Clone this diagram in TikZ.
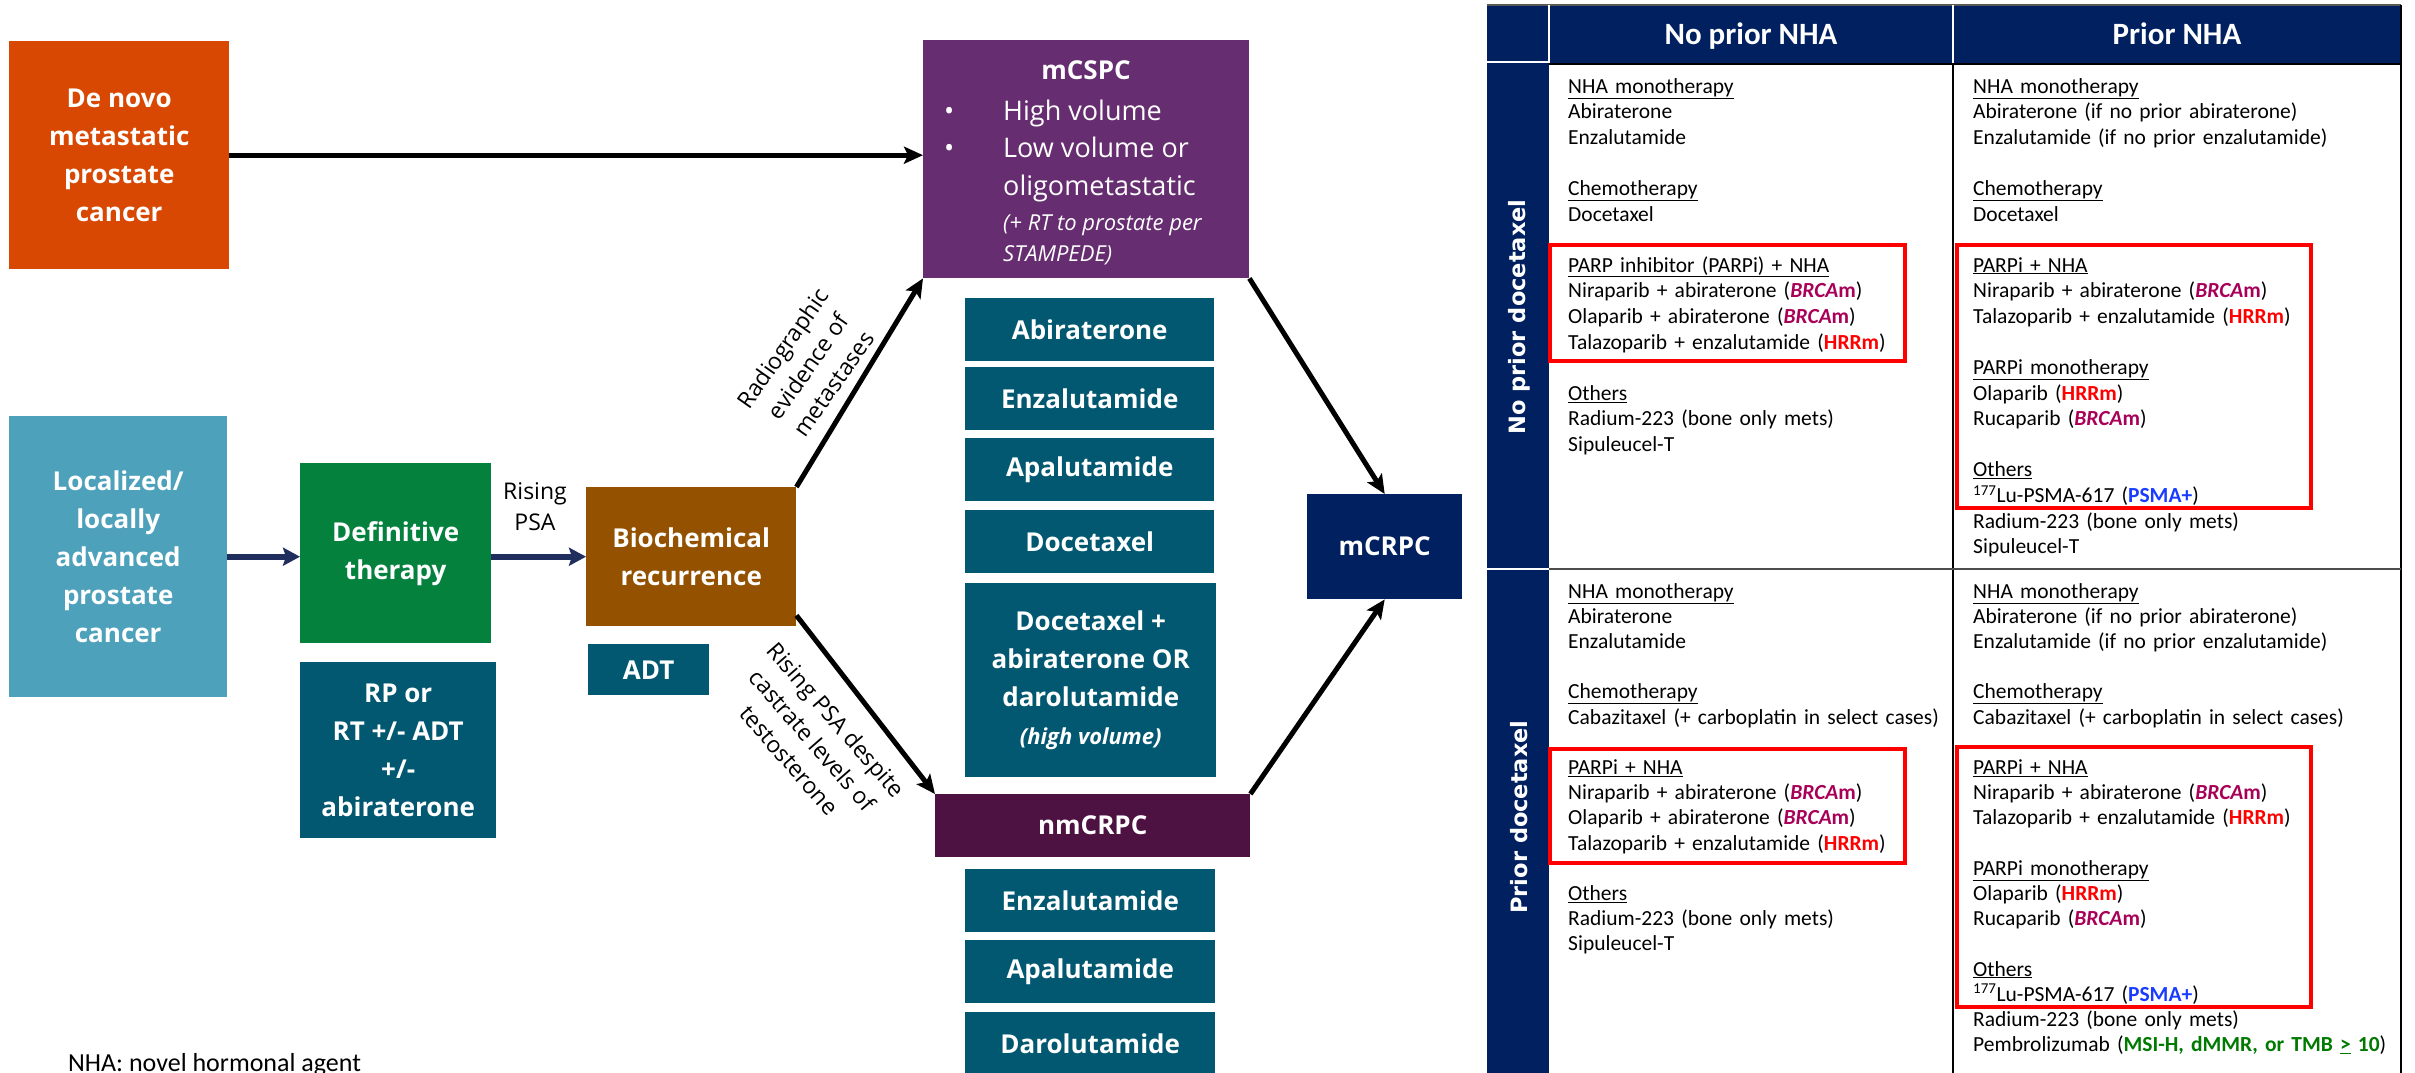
\documentclass[tikz,border=0pt]{standalone}
\usepackage{fontspec}
\setmainfont{Carlito}
\newfontfamily\osans{Open Sans}
\newfontfamily\dvsans{DejaVu Sans}
\usetikzlibrary{arrows.meta}
\definecolor{cOrange}{RGB}{216,72,2}
\definecolor{cPurple}{RGB}{102,45,112}
\definecolor{cTeal}{RGB}{2,88,112}
\definecolor{cLight}{RGB}{77,161,187}
\definecolor{cGreen}{RGB}{3,129,61}
\definecolor{cBrown}{RGB}{148,82,0}
\definecolor{cDark}{RGB}{77,18,66}
\definecolor{cNavy}{RGB}{0,32,96}
\definecolor{cArrow}{RGB}{31,46,92}
\definecolor{cBrca}{RGB}{168,0,88}
\definecolor{cPsma}{RGB}{26,60,255}
\definecolor{cMsi}{RGB}{0,122,0}
\newcommand\brcam{\textcolor{cBrca}{\textbf{\textit{BRCA}m}}}
\newcommand\hrrm{\textcolor{red}{\textbf{HRRm}}}
\newcommand\psmap{\textcolor{cPsma}{\textbf{PSMA+}}}
\newcommand\gap{\\[25.6pt]}
\newcommand\gapb{\\[25.2pt]}
\tikzset{
  box/.style={rectangle, inner sep=0pt, anchor=north west, text=white,
    font=\osans\bfseries\fontsize{26}{38}\selectfont, align=center},
  purpletxt/.style={inner sep=0pt, anchor=base west, text=white,
    font=\osans\fontsize{27}{32}\selectfont},
  blkarrow/.style={line width=5pt, -{Stealth[length=19pt,width=17pt,inset=4pt]}},
  navyarrow/.style={draw=cArrow, line width=6pt, -{Stealth[length=17pt,width=18pt,inset=3pt]}},
  lbl/.style={inner sep=0pt, align=center, font=\osans\fontsize{23}{31}\selectfont},
  cella/.style={anchor=base west, align=left, text width=420pt, inner sep=0pt,
    font=\fontsize{21.5}{25.6}\selectfont},
  cellb/.style={anchor=base west, align=left, text width=420pt, inner sep=0pt,
    font=\fontsize{21.5}{25.2}\selectfont},
  redbox/.style={draw=red, line width=3.5pt},
  tline/.style={line width=2pt},
}
\begin{document}
\begin{tikzpicture}[x=1pt,y=-1pt]
\useasboundingbox (0,0) rectangle (2415,1073);
\clip (0,0) rectangle (2415,1073);
\fill[white] (0,0) rectangle (2415,1073);

% ---------------- left flow chart ----------------
\node[box, fill=cOrange, minimum width=220pt, minimum height=228pt] (denovo) at (9,41)
  {De novo\\metastatic\\prostate\\cancer};
\node[box, fill=cPurple, minimum width=326pt, minimum height=238pt] (mcspc) at (923,40) {};
\node[inner sep=0pt, anchor=base, text=white, font=\osans\bfseries\fontsize{26}{32}\selectfont] (mcspct) at (1086,80) {mCSPC};
\node[purpletxt] (bul1) at (944,120) {•};
\node[purpletxt] (hv) at (1003,120) {High volume};
\node[purpletxt] (bul2) at (944,157) {•};
\node[purpletxt] (lv) at (1003,157) {Low volume or};
\node[purpletxt] (olig) at (1003,195) {oligometastatic};
\node[purpletxt, font=\osans\itshape\fontsize{22}{28}\selectfont] (rt) at (1003,230) {(+ RT to prostate per};
\node[purpletxt, font=\osans\itshape\fontsize{22}{28}\selectfont] (stp) at (1003,261) {STAMPEDE)};

\node[box, fill=cTeal, minimum width=249pt, minimum height=63pt] (abi1) at (965,298) {Abiraterone};
\node[box, fill=cTeal, minimum width=249pt, minimum height=63pt] (enz1) at (965,367) {Enzalutamide};
\node[box, fill=cTeal, minimum width=249pt, minimum height=63pt] (apa1) at (965,438) {Apalutamide};
\node[box, fill=cTeal, minimum width=249pt, minimum height=63pt] (doc1) at (965,510) {Docetaxel};
\node[box, fill=cTeal, minimum width=251pt, minimum height=194pt] (docplus) at (965,583)
  {Docetaxel +\\abiraterone OR\\darolutamide\\{\itshape\fontsize{22}{36}\selectfont (high volume)}};
\node[box, fill=cDark, minimum width=315pt, minimum height=63pt] (nm) at (935,794) {nmCRPC};
\node[box, fill=cTeal, minimum width=250pt, minimum height=63pt] (enz2) at (965,869) {Enzalutamide};
\node[box, fill=cTeal, minimum width=250pt, minimum height=63pt] (apa2) at (965,940) {Apalutamide};
\node[box, fill=cTeal, minimum width=250pt, minimum height=63pt] (daro) at (965,1012) {Darolutamide};

\node[box, fill=cLight, minimum width=218pt, minimum height=281pt] (loc) at (9,416)
  {Localized/\\locally\\advanced\\prostate\\cancer};
\node[box, fill=cGreen, minimum width=191pt, minimum height=180pt] (def) at (300,463)
  {Definitive\\therapy};
\node[box, fill=cTeal, minimum width=196pt, minimum height=176pt] (rp) at (300,662)
  {RP or\\RT +/- ADT\\+/-\\abiraterone};
\node[box, fill=cBrown, minimum width=210pt, minimum height=139pt] (bio) at (586,487)
  {Biochemical\\recurrence};
\node[box, fill=cTeal, minimum width=121pt, minimum height=51pt] (adt) at (588,644) {ADT};
\node[box, fill=cNavy, minimum width=155pt, minimum height=105pt] (mcrpc) at (1307,494) {mCRPC};

\node[lbl] (rpsa) at (535,507) {Rising\\PSA};
\node[lbl, rotate=55] (radlbl) at (808,366) {Radiographic\\evidence of\\metastases};
\node[lbl, rotate=-49] (riselbl) at (813,740) {Rising PSA despite\\castrate levels of\\testosterone};

\draw[navyarrow] (loc.east) -- (def.west |- loc.east);
\draw[navyarrow] (bio.west -| def.east) -- (bio.west);
\draw[blkarrow] (denovo.east) -- (denovo.east -| mcspc.west);
\draw[blkarrow] (bio.north east) -- (mcspc.south west);
\draw[blkarrow] ([yshift=11pt]bio.south east) -- (nm.north west);
\draw[blkarrow] (mcspc.south east) -- (mcrpc.north);
\draw[blkarrow] (nm.north east) -- (mcrpc.south);

\node[anchor=base west, inner sep=0pt, font=\fontsize{26}{30}\selectfont] (fn) at (68,1071) {NHA: novel hormonal agent};

% ---------------- table ----------------
\fill[cNavy] (1487,5) rectangle (2401,64);
\fill[cNavy] (1487,5) rectangle (1549,1080);
\draw[tline, gray!70!black] (1487,5) -- (2401,5);
\draw[tline] (2401,5) -- (2401,1080);
\draw[tline] (1549,64) -- (2401,64);
\draw[tline] (1953,64) -- (1953,1080);
\draw[tline, white] (1953,5) -- (1953,63);
\draw[tline, white] (1549,5) -- (1549,63);
\draw[tline, white] (1487,62) -- (1549,62);
\draw[tline, gray!60!black] (1549,569) -- (2401,569);
\draw[tline, white] (1487,569) -- (1549,569);

\node[anchor=base, inner sep=0pt, text=white, font=\bfseries\fontsize{31}{36}\selectfont] (h1) at (1751,45) {No prior NHA};
\node[anchor=base, inner sep=0pt, text=white, font=\bfseries\fontsize{31}{36}\selectfont] (h2) at (2177,45) {Prior NHA};
\node[rotate=90, inner sep=0pt, text=white, font=\dvsans\bfseries\fontsize{22.5}{26}\selectfont] (r1) at (1519,317) {No prior docetaxel};
\node[rotate=90, inner sep=0pt, text=white, font=\dvsans\bfseries\fontsize{22.5}{26}\selectfont] (r2) at (1519,817) {Prior docetaxel};

\node[cella] (c11) at (1568,93) {\underline{NHA monotherapy}\\
Abiraterone\\
Enzalutamide\gap
\underline{Chemotherapy}\\
Docetaxel\gap
\underline{PARP inhibitor (PARPi) + NHA}\\
Niraparib + abiraterone (\brcam)\\
Olaparib + abiraterone (\brcam)\\
Talazoparib + enzalutamide (\hrrm)\gap
\underline{Others}\\
Radium-223 (bone only mets)\\
Sipuleucel-T};

\node[cella] (c12) at (1973,93) {\underline{NHA monotherapy}\\
Abiraterone (if no prior abiraterone)\\
Enzalutamide (if no prior enzalutamide)\gap
\underline{Chemotherapy}\\
Docetaxel\gap
\underline{PARPi + NHA}\\
Niraparib + abiraterone (\brcam)\\
Talazoparib + enzalutamide (\hrrm)\gap
\underline{PARPi monotherapy}\\
Olaparib (\hrrm)\\
Rucaparib (\brcam)\gap
\underline{Others}\\
\textsuperscript{177}Lu-PSMA-617 (\psmap)\\
Radium-223 (bone only mets)\\
Sipuleucel-T};

\node[cellb] (c21) at (1568,598) {\underline{NHA monotherapy}\\
Abiraterone\\
Enzalutamide\gapb
\underline{Chemotherapy}\\
Cabazitaxel (+ carboplatin in select cases)\gapb
\underline{PARPi + NHA}\\
Niraparib + abiraterone (\brcam)\\
Olaparib + abiraterone (\brcam)\\
Talazoparib + enzalutamide (\hrrm)\gapb
\underline{Others}\\
Radium-223 (bone only mets)\\
Sipuleucel-T};

\node[cellb] (c22) at (1973,598) {\underline{NHA monotherapy}\\
Abiraterone (if no prior abiraterone)\\
Enzalutamide (if no prior enzalutamide)\gapb
\underline{Chemotherapy}\\
Cabazitaxel (+ carboplatin in select cases)\gapb
\underline{PARPi + NHA}\\
Niraparib + abiraterone (\brcam)\\
Talazoparib + enzalutamide (\hrrm)\gapb
\underline{PARPi monotherapy}\\
Olaparib (\hrrm)\\
Rucaparib (\brcam)\gapb
\underline{Others}\\
\textsuperscript{177}Lu-PSMA-617 (\psmap)\\
Radium-223 (bone only mets)\\
Pembrolizumab (\textcolor{cMsi}{\textbf{MSI-H, dMMR, or TMB \underline{>} 10}})};

\draw[redbox] (1550,245) rectangle (1905,361);
\draw[redbox] (1957,245) rectangle (2311,508);
\draw[redbox] (1550,749) rectangle (1905,863);
\draw[redbox] (1957,747) rectangle (2311,1007);
\end{tikzpicture}
\end{document}
